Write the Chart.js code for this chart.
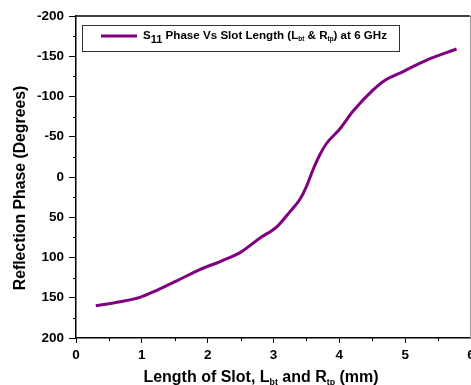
<!DOCTYPE html>
<html>
<head>
<meta charset="utf-8">
<script src="https://cdn.jsdelivr.net/npm/chart.js@4.4.0/dist/chart.umd.min.js"></script>
<style>
  html, body { margin: 0; padding: 0; background: #fff; }
  #wrap { width: 471px; height: 385px; }
</style>
</head>
<body>
<div id="wrap"><canvas id="canvas"></canvas></div>
<script>
// slot length (mm) vs reflection phase (deg)
var slotLength = [0.30, 0.67, 0.97, 1.22, 1.53, 1.88, 2.19, 2.51, 2.79, 3.05, 3.25, 3.40, 3.50, 3.60, 3.70, 3.80, 4.01, 4.21, 4.51, 4.69, 4.97, 5.32, 5.78];
var phase = [160, 155, 149.5, 141, 129, 115, 105, 93, 76, 62, 43, 28, 12, -9, -27, -41, -60, -82, -108, -120, -131, -145, -159];
var seriesLabel = 'S11 Phase Vs Slot Length (Lbt & Rtp) at 6 GHz';
var yTicks = [-200, -150, -100, -50, 0, 50, 100, 150, 200];
var xTicks = [0, 1, 2, 3, 4, 5, 6];

var points = slotLength.map(function(x, i){
    return {x: x, y: phase[i]}
})

var FONT = '"Liberation Sans", Arial, sans-serif';

// draws text pieces, some as subscripts
function richText(ctx, parts, x, y, size){
    parts.forEach(function(p){
        var s = p.sub ? size * p.sub : size;
        ctx.font = 'bold ' + s + 'px ' + FONT;
        ctx.fillText(p.t, x, y + (p.sub ? p.dy : 0));
        x += ctx.measureText(p.t).width;
    })
}
function richWidth(ctx, parts, size){
    var w = 0;
    parts.forEach(function(p){
        var s = p.sub ? size * p.sub : size;
        ctx.font = 'bold ' + s + 'px ' + FONT;
        w += ctx.measureText(p.t).width;
    })
    return w;
}

var decor = {
    id: 'decor',
    afterDraw: function(chart){
        var ctx = chart.ctx, a = chart.chartArea;
        var xs = chart.scales.x, ys = chart.scales.y;
        ctx.save();
        // frame
        ctx.strokeStyle = '#000';
        ctx.lineWidth = 1.5;
        ctx.beginPath();
        ctx.moveTo(a.left, a.top); ctx.lineTo(a.right - 1, a.top);
        ctx.stroke();
        ctx.strokeStyle = '#999';
        ctx.lineWidth = 1;
        ctx.beginPath();
        ctx.moveTo(a.right - 0.5, a.top); ctx.lineTo(a.right - 0.5, a.bottom);
        ctx.stroke();

        // minor ticks
        ctx.strokeStyle = '#000';
        ctx.lineWidth = 1;
        ctx.beginPath();
        for (var v = -175; v < 200; v += 50){
            var py = Math.round(ys.getPixelForValue(v)) + 0.5;
            ctx.moveTo(a.left, py); ctx.lineTo(a.left - 3, py);
        }
        for (var u = 0.5; u < 6; u += 1){
            var px = Math.round(xs.getPixelForValue(u)) + 0.5;
            ctx.moveTo(px, a.bottom); ctx.lineTo(px, a.bottom + 3);
        }
        ctx.stroke();

        // x tick labels (the last one sits on the canvas edge)
        ctx.fillStyle = '#000';
        ctx.textAlign = 'center';
        ctx.textBaseline = 'alphabetic';
        ctx.font = 'bold 13.5px ' + FONT;
        xTicks.forEach(function(t){
            ctx.fillText(String(t), xs.getPixelForValue(t), a.bottom + 21);
        })

        // legend box
        ctx.strokeStyle = '#333';
        ctx.lineWidth = 1;
        ctx.strokeRect(82.5, 25.5, 317, 26);
        ctx.strokeStyle = '#800080';
        ctx.lineWidth = 3;
        ctx.beginPath();
        ctx.moveTo(101, 36); ctx.lineTo(137, 36);
        ctx.stroke();
        ctx.textAlign = 'left';
        richText(ctx, [
            {t: 'S'}, {t: '11', sub: 0.95, dy: 4},
            {t: ' Phase Vs Slot Length (L'}, {t: 'bt', sub: 0.55, dy: 2},
            {t: ' & R'}, {t: 'tp', sub: 0.55, dy: 2},
            {t: ') at 6 GHz'}
        ], 143, 39, 11.6);

        // axis titles
        var xt = [
            {t: 'Length of Slot, L'}, {t: 'bt', sub: 0.55, dy: 3},
            {t: ' and R'}, {t: 'tp', sub: 0.55, dy: 3},
            {t: ' (mm)'}
        ];
        var w = richWidth(ctx, xt, 16);
        richText(ctx, xt, 261 - w / 2, 382, 16);

        ctx.translate(25, 188);
        ctx.rotate(-Math.PI / 2);
        ctx.textAlign = 'center';
        ctx.font = 'bold 15.8px ' + FONT;
        ctx.fillText('Reflection Phase (Degrees)', 0, 0);
        ctx.restore();
    }
};

const ctx = document.getElementById('canvas').getContext('2d');
const myChart = new Chart(ctx, {
    type: 'scatter',
    data: {
        datasets: [{
            label: seriesLabel,
            data: points,
            showLine: true,
            borderColor: '#800080',
            backgroundColor: '#800080',
            borderWidth: 3,
            pointRadius: 0,
            cubicInterpolationMode: 'monotone'
        }]
    },
    options: {
        responsive: true,
        maintainAspectRatio: false,
        animation: false,
        layout: {
            padding: {top: 16, right: 0, left: 0, bottom: 0}
        },
        plugins: {
            legend: { display: false },
            tooltip: { enabled: false }
        },
        scales: {
            x: {
                type: 'linear',
                min: 0,
                max: 6,
                afterBuildTicks: function(s){
                    s.ticks = xTicks.map(function(v){ return {value: v} })
                },
                afterFit: function(s){
                    s.height = 47;
                    s.paddingLeft = 0;
                    s.paddingRight = 0;
                },
                ticks: {
                    display: false
                },
                grid: {
                    drawOnChartArea: false,
                    tickLength: 5,
                    tickColor: '#000',
                    tickWidth: 1
                },
                border: { color: '#000', width: 1.5 }
            },
            y: {
                type: 'linear',
                reverse: true,
                min: -200,
                max: 200,
                afterBuildTicks: function(s){
                    s.ticks = yTicks.map(function(v){ return {value: v} })
                },
                afterFit: function(s){
                    s.width = 76;
                    s.paddingTop = 0;
                    s.paddingBottom = 0;
                },
                ticks: {
                    color: '#000',
                    padding: 5,
                    autoSkip: false,
                    font: { family: FONT, size: 13.5, weight: 'bold' }
                },
                grid: {
                    drawOnChartArea: false,
                    tickLength: 7,
                    tickColor: '#000',
                    tickWidth: 1
                },
                border: { color: '#000', width: 1.5 }
            }
        }
    },
    plugins: [decor]
});
</script>
</body>
</html>
